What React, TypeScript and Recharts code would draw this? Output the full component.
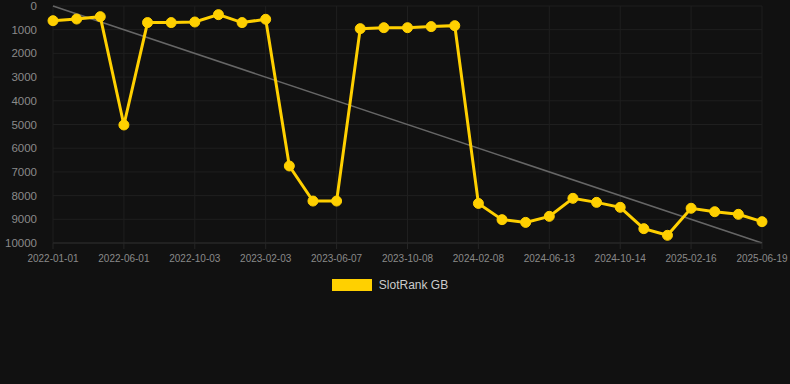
import React from "react";
import { LineChart, Line, XAxis, YAxis, CartesianGrid, Legend } from "recharts";

const dates = [
  "2022-01-01", "2022-02-20", "2022-04-11",
  "2022-06-01", "2022-07-11", "2022-08-22",
  "2022-10-03", "2022-11-13", "2022-12-24",
  "2023-02-03", "2023-03-17", "2023-04-27",
  "2023-06-07", "2023-07-18", "2023-08-28",
  "2023-10-08", "2023-11-18", "2023-12-29",
  "2024-02-08", "2024-03-20", "2024-05-02",
  "2024-06-13", "2024-07-24", "2024-09-03",
  "2024-10-14", "2024-11-24", "2025-01-05",
  "2025-02-16", "2025-03-29", "2025-05-09",
  "2025-06-19",
];

const rankGB = [
  620, 550, 450, 5020, 700, 700, 675, 365, 700, 560,
  6750, 8230, 8230, 955, 915, 915, 870, 830, 8330, 9015,
  9130, 8875, 8115, 8285, 8495, 9395, 9675, 8535, 8680, 8790,
  9100,
];

const trendEnds: (number | null)[] = dates.map((_, i) =>
  i === 0 ? 0 : i === dates.length - 1 ? 10000 : null
);

const yTicks = [0, 1000, 2000, 3000, 4000, 5000, 6000, 7000, 8000, 9000, 10000];

const data = dates.map((d, i) => ({ date: d, rank: rankGB[i], trend: trendEnds[i] }));

const GOLD = "#ffd000";
const GRID = "#1f1f1f";

const LegendContent = () => (
  <div style={{ display: "flex", justifyContent: "center", alignItems: "center", fontFamily: "Arial, 'Liberation Sans', sans-serif", paddingRight: 10 }}>
    <div style={{ width: 40, height: 12, background: GOLD, marginRight: 7 }} />
    <span style={{ color: "#cccccc", fontSize: 12 }}>SlotRank GB</span>
  </div>
);

export default function App() {
  return (
    <div style={{ position: "fixed", left: 0, top: 0, width: 790, height: 384, background: "#111111" }}>
      <LineChart
        width={790}
        height={384}
        data={data}
        margin={{ top: 6, right: 28, left: 0, bottom: 111 }}
        style={{ fontFamily: "Arial, 'Liberation Sans', sans-serif" }}
      >
        <CartesianGrid stroke={GRID} strokeWidth={1} />
        <XAxis
          dataKey="date"
          interval={2}
          tick={{ fill: "#8a8a8a", fontSize: 10 }}
          tickLine={{ stroke: "#262626" }}
          axisLine={{ stroke: "#2c2c2c" }}
          tickSize={6}
          tickMargin={6}
          height={30}
        />
        <YAxis
          reversed
          domain={[0, 10000]}
          ticks={yTicks}
          width={53}
          tick={{ fill: "#8a8a8a", fontSize: 11.5 }}
          tickLine={false}
          axisLine={false}
          tickMargin={10}
        />
        <Legend
          verticalAlign="middle"
          align="center"
          layout="horizontal"
          wrapperStyle={{ top: 278, left: 0, width: 790 }}
          content={<LegendContent />}
        />
        <Line
          dataKey="trend"
          stroke="#666666"
          strokeWidth={1.5}
          dot={false}
          activeDot={false}
          connectNulls
          isAnimationActive={false}
          legendType="none"
        />
        <Line
          dataKey="rank"
          name="SlotRank GB"
          stroke={GOLD}
          strokeWidth={3}
          dot={{ r: 5, fill: GOLD, stroke: GOLD, strokeWidth: 1 }}
          activeDot={false}
          isAnimationActive={false}
        />
      </LineChart>
    </div>
  );
}
